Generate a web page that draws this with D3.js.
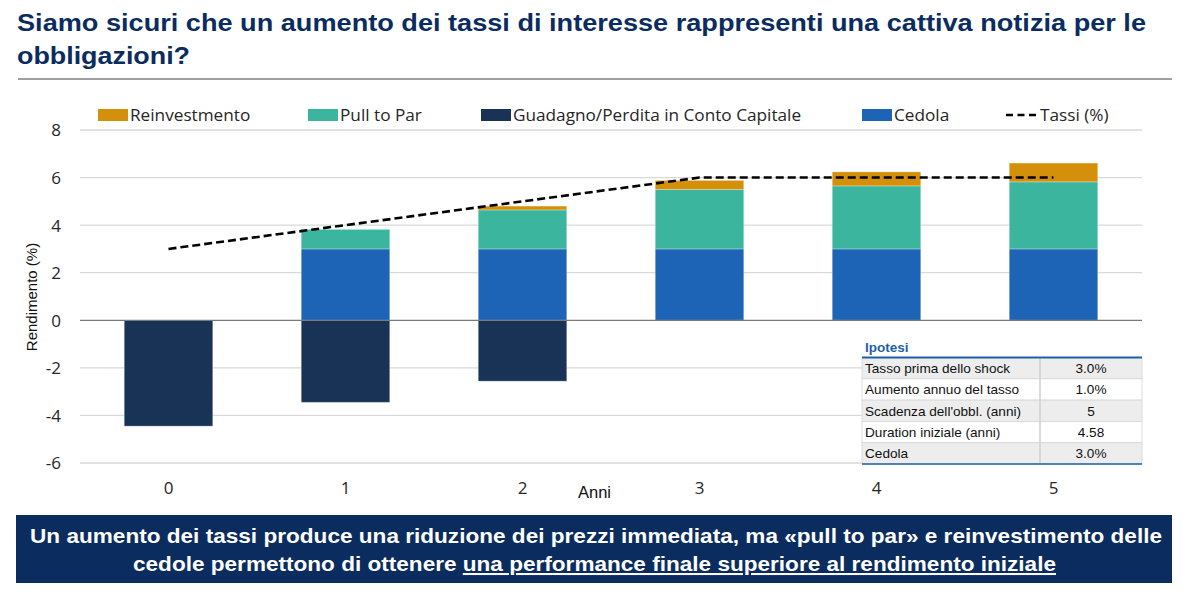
<!DOCTYPE html>
<html><head><meta charset="utf-8">
<script src="https://cdn.jsdelivr.net/npm/d3@7"></script>
<style>
html,body{margin:0;padding:0;background:#fff;}
svg{display:block;}
</style></head>
<body>
<svg id="chart" width="1202" height="595"></svg>
<script>
// ---- data ----
const anni = [0, 1, 2, 3, 4, 5];
const cedola = [0, 3, 3, 3, 3, 3];
const pullToPar = [0, 0.82, 1.64, 2.5, 2.65, 2.82];
const reinvestimento = [0, 0, 0.16, 0.38, 0.59, 0.79];
const guadagnoPerdita = [-4.45, -3.45, -2.56, 0, 0, 0];
const tassi = [3, 4, 5, 6, 6, 6];
const yTicks = [-6, -4, -2, 0, 2, 4, 6, 8];
const seriesNames = ["Reinvestmento", "Pull to Par", "Guadagno/Perdita in Conto Capitale", "Cedola", "Tassi (%)"];
const ipotesiLabels = ["Tasso prima dello shock", "Aumento annuo del tasso", "Scadenza dell'obbl. (anni)", "Duration iniziale (anni)", "Cedola"];
const ipotesiValues = ["3.0%", "1.0%", "5", "4.58", "3.0%"];
const titleLines = ["Siamo sicuri che un aumento dei tassi di interesse rappresenti una cattiva notizia per le", "obbligazioni?"];

const svg = d3.select("#chart");
const colors = {
  reinvestimento: "#D4900A",
  pullToPar: "#3BB59D",
  guadagno: "#183356",
  cedola: "#1D64B7"
};
const navy = "#0B2C5E";
const legendFont = "'Open Sans','Noto Sans',sans-serif";
const arial = "'Liberation Sans',Arial,sans-serif";

// ---- title ----
const titleWidths = [1129, 173];
svg.append("g").selectAll("text").data(titleLines).join("text")
  .attr("x", 17).attr("y", (d, i) => 31 + i * 33)
  .attr("font-family", arial).attr("font-weight", "bold").attr("font-size", 23.5)
  .attr("textLength", (d, i) => titleWidths[i]).attr("lengthAdjust", "spacingAndGlyphs")
  .attr("fill", navy).text(d => d);
svg.append("line").attr("x1", 18).attr("x2", 1172).attr("y1", 79).attr("y2", 79)
  .attr("stroke", "#7f7f7f").attr("stroke-width", 1.5);

// ---- scales ----
const x = d3.scaleBand().domain(anni).range([80, 1142]).paddingInner(0.5).paddingOuter(0.25);
const y = d3.scaleLinear().domain([-6, 8]).range([463, 130]);

// gridlines
svg.append("g").selectAll("line").data(yTicks.filter(t => t !== 0)).join("line")
  .attr("x1", 80).attr("x2", 1142)
  .attr("y1", d => y(d)).attr("y2", d => y(d))
  .attr("stroke", "#d9d9d9").attr("stroke-width", 1.3);

// y axis labels
const yAxis = d3.axisLeft(y).tickValues(yTicks).tickSize(0).tickPadding(0).tickFormat(d => String(d));
const gy = svg.append("g").attr("transform", "translate(61,0)").call(yAxis);
gy.select(".domain").remove();
gy.selectAll("text").attr("font-family", legendFont).attr("font-size", 17).attr("fill", "#262626").attr("dy", "0.35em");

// x axis labels
const xAxis = d3.axisBottom(x).tickSize(0).tickPadding(0);
const gx = svg.append("g").attr("transform", "translate(0,482)").call(xAxis);
gx.select(".domain").remove();
gx.selectAll("text").attr("font-family", legendFont).attr("font-size", 17).attr("fill", "#262626");

// axis titles
svg.append("text").attr("transform", "translate(37,297) rotate(-90)")
  .attr("text-anchor", "middle").attr("font-family", arial).attr("font-size", 15)
  .attr("fill", "#111").text("Rendimento (%)");
svg.append("text").attr("x", 578).attr("y", 498)
  .attr("font-family", arial).attr("font-size", 16.5).attr("fill", "#111").text("Anni");

// ---- stacked bars ----
const rows = anni.map((a, i) => ({
  anno: a, guadagno: guadagnoPerdita[i], cedola: cedola[i],
  pullToPar: pullToPar[i], reinvestimento: reinvestimento[i]
}));
const keys = ["guadagno", "cedola", "pullToPar", "reinvestimento"];
const stacked = d3.stack().keys(keys).offset(d3.stackOffsetDiverging)(rows);

svg.append("g").selectAll("g").data(stacked).join("g")
  .attr("fill", s => colors[s.key])
  .selectAll("rect").data(s => s.filter(d => d[1] !== d[0])).join("rect")
  .attr("x", d => x(d.data.anno))
  .attr("width", x.bandwidth())
  .attr("y", d => y(Math.max(d[0], d[1])))
  .attr("height", d => Math.abs(y(d[0]) - y(d[1])))
  .attr("stroke", "rgba(255,255,255,0.28)").attr("stroke-width", 1);

// zero line
svg.append("line").attr("x1", 80).attr("x2", 1142).attr("y1", y(0)).attr("y2", y(0))
  .attr("stroke", "#7a7a7a").attr("stroke-width", 1.3);

// ---- rates line ----
const line = d3.line().x((d, i) => x(anni[i]) + x.bandwidth() / 2).y(d => y(d));
svg.append("path").datum(tassi).attr("d", line)
  .attr("fill", "none").attr("stroke", "#000").attr("stroke-width", 2.6)
  .attr("stroke-dasharray", "8,4");

// ---- legend ----
const legendItems = [
  { name: seriesNames[0], color: colors.reinvestimento, x: 98 },
  { name: seriesNames[1], color: colors.pullToPar, x: 308 },
  { name: seriesNames[2], color: colors.guadagno, x: 481 },
  { name: seriesNames[3], color: colors.cedola, x: 862 },
  { name: seriesNames[4], color: null, x: 1006 }
];
const lg = svg.append("g").selectAll("g").data(legendItems).join("g")
  .attr("transform", d => `translate(${d.x},115)`);
lg.filter(d => d.color).append("rect").attr("x", 0).attr("y", -6).attr("width", 30).attr("height", 12)
  .attr("fill", d => d.color);
lg.filter(d => !d.color).append("line").attr("x1", 0).attr("x2", 30).attr("y1", 0).attr("y2", 0)
  .attr("stroke", "#000").attr("stroke-width", 2.6).attr("stroke-dasharray", "7,4.5");
lg.append("text").attr("x", d => d.color ? 32 : 34).attr("y", 0).attr("dy", "0.35em")
  .attr("font-family", legendFont).attr("font-size", 17.2).attr("fill", "#262626")
  .text(d => d.name);

// ---- Ipotesi table ----
const tX = 862, tW = 280, tTop = 357.5, rowH = 21.3, colX = 1040;
const tg = svg.append("g");
tg.append("rect").attr("x", tX).attr("y", 334).attr("width", tW).attr("height", 132).attr("fill", "#fff");
tg.append("text").attr("x", tX + 3).attr("y", 352).attr("font-family", arial).attr("font-weight", "bold")
  .attr("font-size", 13.5).attr("fill", "#1F5FA8").text("Ipotesi");
tg.selectAll("rect.row").data(ipotesiLabels).join("rect").attr("class", "row")
  .attr("x", tX).attr("y", (d, i) => tTop + i * rowH).attr("width", tW).attr("height", rowH)
  .attr("fill", (d, i) => i % 2 === 0 ? "#EDEDED" : "#FFFFFF")
  .attr("stroke", "#d6d6d6").attr("stroke-width", 0.8);
tg.append("line").attr("x1", colX).attr("x2", colX).attr("y1", tTop).attr("y2", tTop + 5 * rowH)
  .attr("stroke", "#cfcfcf").attr("stroke-width", 1.5);
tg.selectAll("text.lab").data(ipotesiLabels).join("text").attr("class", "lab")
  .attr("x", tX + 3).attr("y", (d, i) => tTop + i * rowH + rowH / 2).attr("dy", "0.35em")
  .attr("font-family", arial).attr("font-size", 13.6).attr("fill", "#111").text(d => d);
tg.selectAll("text.val").data(ipotesiValues).join("text").attr("class", "val")
  .attr("x", 1091).attr("y", (d, i) => tTop + i * rowH + rowH / 2).attr("dy", "0.35em")
  .attr("text-anchor", "middle")
  .attr("font-family", arial).attr("font-size", 13.6).attr("fill", "#111").text(d => d);
tg.append("line").attr("x1", tX).attr("x2", tX + tW).attr("y1", tTop).attr("y2", tTop)
  .attr("stroke", "#1F5FA8").attr("stroke-width", 2);
tg.append("line").attr("x1", tX).attr("x2", tX + tW).attr("y1", tTop + 5 * rowH).attr("y2", tTop + 5 * rowH)
  .attr("stroke", "#1F5FA8").attr("stroke-width", 1.5);

// ---- footer ----
svg.append("rect").attr("x", 16).attr("y", 515).attr("width", 1156).attr("height", 68).attr("fill", navy);
svg.append("text").attr("x", 596).attr("y", 543).attr("text-anchor", "middle")
  .attr("font-family", arial).attr("font-weight", "bold").attr("font-size", 20.5).attr("fill", "#fff")
  .attr("textLength", 1132).attr("lengthAdjust", "spacingAndGlyphs")
  .text("Un aumento dei tassi produce una riduzione dei prezzi immediata, ma «pull to par» e reinvestimento delle");
const f2 = svg.append("text").attr("x", 594.5).attr("y", 571).attr("text-anchor", "middle")
  .attr("font-family", arial).attr("font-weight", "bold").attr("font-size", 20.5).attr("fill", "#fff")
  .attr("textLength", 923).attr("lengthAdjust", "spacingAndGlyphs");
f2.append("tspan").text("cedole permettono di ottenere ");
f2.append("tspan").attr("text-decoration", "underline").text("una performance finale superiore al rendimento iniziale");
</script>
</body></html>
